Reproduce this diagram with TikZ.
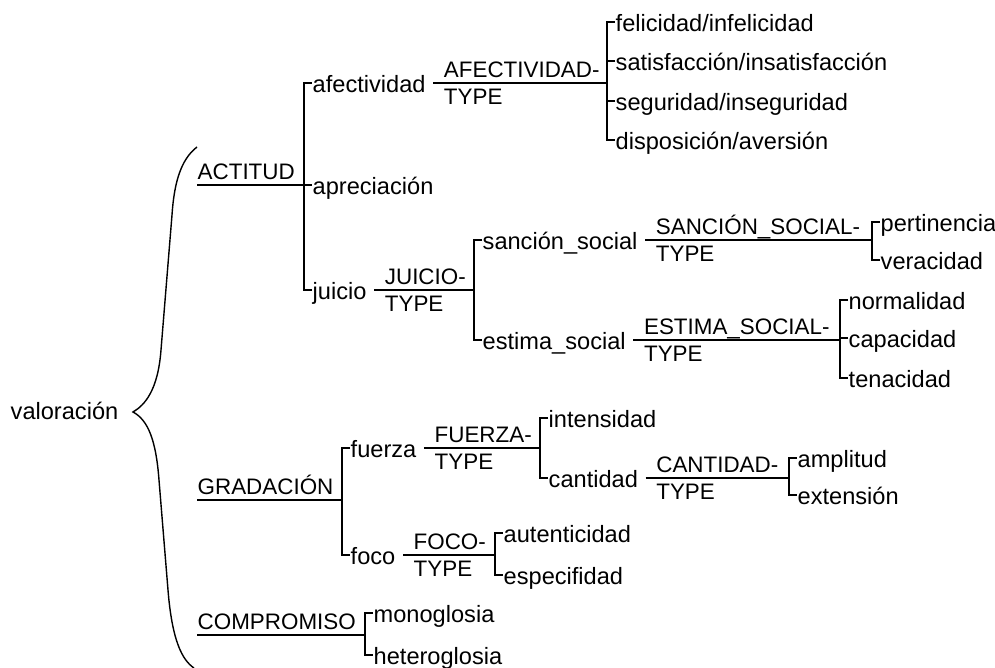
\documentclass[tikz,border=0pt]{standalone}
\usepackage{fontspec}
\setmainfont{Liberation Sans}
\usetikzlibrary{calc}

\begin{document}
\begin{tikzpicture}[
  x=0.5pt, y=-0.5pt,
  line width=0.7pt,
  term/.style={anchor=west, inner sep=0pt, text height=9.5pt, text depth=0pt,
               font=\fontsize{11.8}{14}\selectfont},
  sys/.style={anchor=south west, inner xsep=0pt, inner ysep=2.5pt, text height=8pt,
              text depth=0pt, font=\fontsize{11.2}{13}\selectfont},
  feat/.style={inner xsep=5pt, inner ysep=2.5pt, text height=8pt, text depth=0pt,
               font=\fontsize{11.2}{13}\selectfont},
]
\useasboundingbox (0,0) rectangle (995,668);

% ── root and brace ───────────────────────────────────────────
\node[term] (valo) at (10,410) {valoración};
\draw (197,147) .. controls (180,160) and (174,185) .. (172,215) -- (161,350)
  .. controls (158,390) and (145,405) .. (133,412)
  .. controls (148,420) and (156,440) .. (159,480) -- (168,590)
  .. controls (172,640) and (182,660) .. (194,668);

% ── ACTITUD ──────────────────────────────────────────────────
\node[sys]  (acti) at (197,185) {ACTITUD};
\node[term] (afec) at (312,83)  {afectividad};
\node[term] (apre) at (312,185) {apreciación};
\node[term] (juic) at (312,290) {juicio};
\draw (acti.south west) -- (apre.west);
\draw (afec.west) -- ++(-8,0) |- (juic.west);

% afectividad
\node[term] (feli) at (615,22)  {felicidad/infelicidad};
\node[term] (sati) at (615,61)  {satisfacción/insatisfacción};
\node[term] (segu) at (615,101) {seguridad/inseguridad};
\node[term] (disp) at (615,140) {disposición/aversión};
\draw ($(afec.east)+(7,0)$) -- ($(feli.west |- afec.east)+(-8,0)$)
  node[feat, pos=0, anchor=south west] (afecA) {AFECTIVIDAD-}
  node[feat, pos=0, anchor=north west] (afecB) {TYPE};
\draw (feli.west) -- ++(-8,0) |- (disp.west);
\foreach \n in {sati,segu} \draw (\n.west) -- ++(-8,0);

% juicio
\node[term] (sanc) at (482,240) {sanción\_social};
\node[term] (esti) at (482,340) {estima\_social};
\draw ($(juic.east)+(7,0)$) -- ($(sanc.west |- juic.east)+(-8,0)$)
  node[feat, pos=0, anchor=south west] (juicA) {JUICIO-}
  node[feat, pos=0, anchor=north west] (juicB) {TYPE};
\draw (sanc.west) -- ++(-8,0) |- (esti.west);

% sanción social
\node[term] (pert) at (880,222) {pertinencia};
\node[term] (vera) at (880,260) {veracidad};
\draw ($(sanc.east)+(7,0)$) -- ($(pert.west |- sanc.east)+(-8,0)$)
  node[feat, pos=0, anchor=south west] (sancA) {SANCIÓN\_SOCIAL-}
  node[feat, pos=0, anchor=north west] (sancB) {TYPE};
\draw (pert.west) -- ++(-8,0) |- (vera.west);

% estima social
\node[term] (norm) at (848,300) {normalidad};
\node[term] (capa) at (848,338) {capacidad};
\node[term] (tena) at (848,378) {tenacidad};
\draw ($(esti.east)+(7,0)$) -- ($(norm.west |- esti.east)+(-8,0)$)
  node[feat, pos=0, anchor=south west] (estiA) {ESTIMA\_SOCIAL-}
  node[feat, pos=0, anchor=north west] (estiB) {TYPE};
\draw (norm.west) -- ++(-8,0) |- (tena.west);
\draw (capa.west) -- ++(-8,0);

% ── GRADACIÓN ────────────────────────────────────────────────
\node[sys]  (grad) at (197,500) {GRADACIÓN};
\node[term] (fuer) at (350,448) {fuerza};
\node[term] (foco) at (350,555) {foco};
\coordinate (gbar) at ($(fuer.west)+(-8,0)$);
\draw (grad.south west) -- (grad.south west -| gbar);
\draw (fuer.west) -- ++(-8,0) |- (foco.west);

% fuerza
\node[term] (inte) at (548,418) {intensidad};
\node[term] (cant) at (548,478) {cantidad};
\draw ($(fuer.east)+(7,0)$) -- ($(inte.west |- fuer.east)+(-8,0)$)
  node[feat, pos=0, anchor=south west] (fuerA) {FUERZA-}
  node[feat, pos=0, anchor=north west] (fuerB) {TYPE};
\draw (inte.west) -- ++(-8,0) |- (cant.west);

% cantidad
\node[term] (ampl) at (797,458) {amplitud};
\node[term] (exte) at (797,495) {extensión};
\draw ($(cant.east)+(7,0)$) -- ($(ampl.west |- cant.east)+(-8,0)$)
  node[feat, pos=0, anchor=south west] (cantA) {CANTIDAD-}
  node[feat, pos=0, anchor=north west] (cantB) {TYPE};
\draw (ampl.west) -- ++(-8,0) |- (exte.west);

% foco
\node[term] (aute) at (503,533) {autenticidad};
\node[term] (espe) at (503,575) {especifidad};
\draw ($(foco.east)+(7,0)$) -- ($(aute.west |- foco.east)+(-8,0)$)
  node[feat, pos=0, anchor=south west] (focoA) {FOCO-}
  node[feat, pos=0, anchor=north west] (focoB) {TYPE};
\draw (aute.west) -- ++(-8,0) |- (espe.west);

% ── COMPROMISO ───────────────────────────────────────────────
\node[sys]  (comp) at (197,635) {COMPROMISO};
\node[term] (mono) at (373,613) {monoglosia};
\node[term] (hete) at (373,655) {heteroglosia};
\coordinate (cbar) at ($(mono.west)+(-8,0)$);
\draw (comp.south west) -- (comp.south west -| cbar);
\draw (mono.west) -- ++(-8,0) |- (hete.west);

\end{tikzpicture}
\end{document}
